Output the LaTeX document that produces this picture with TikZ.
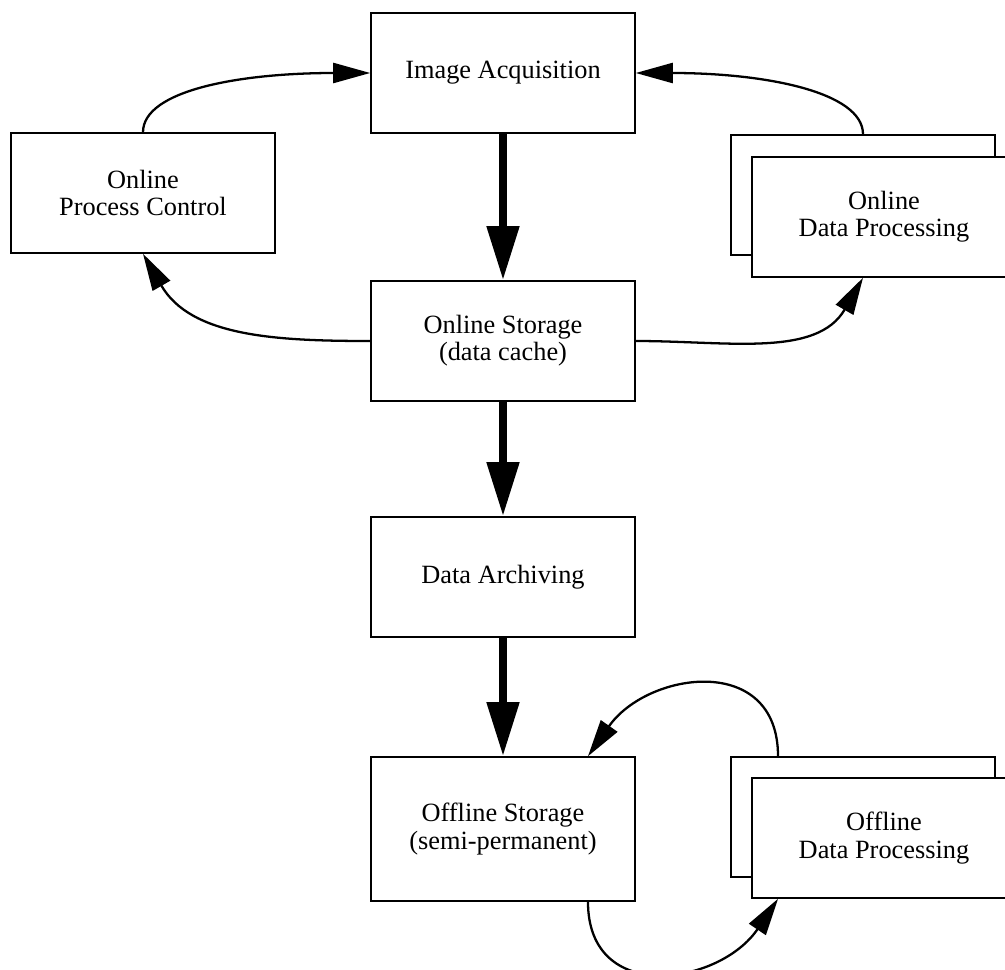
\documentclass[tikz,border=0pt]{standalone}
\usepackage{fontspec}
\setmainfont{Liberation Serif}
\usetikzlibrary{arrows.meta}

\begin{document}
\begin{tikzpicture}[x=0.02cm,y=-0.02cm,
		box/.style={draw,line width=0.9pt,fill=white,minimum width=5.28cm,minimum height=2.4cm,
			inner sep=0pt,align=center,font=\fontsize{15}{15.5}\selectfont},
		flowarrow/.style={line width=1.3pt,-{Triangle[length=0.74cm,width=0.4cm]}},
		bigarrow/.style={line width=4.5pt,-{Triangle[length=1.08cm,width=0.62cm]}}]
		\useasboundingbox (0,0) rectangle (1005,970);
		
		% Draw the main column
		\node[box] (acq) at (503,73) {Image Acquisition};
		\node[box] (store) at (503,341) {Online Storage\\(data cache)};
		\node[box] (arch) at (503,577) {Data Archiving};
		\node[box,minimum height=2.88cm] (offstore) at (503,829) {Offline Storage\\(semi-permanent)};
		
		% Draw the side boxes
		\node[box] (opc) at (143,193) {Online\\Process Control};
		\node[box] (odpback) at (863,195) {};
		\node[box] (odp) at (884,217) {Online\\Data Processing};
		\node[box] (offback) at (863,817) {};
		\node[box] (offdp) at (884,838) {Offline\\Data Processing};
		
		% Add the main flow
		\draw[bigarrow] (acq) -- (store);
		\draw[bigarrow] (store) -- (arch);
		\draw[bigarrow] (arch) -- (offstore);
		
		% Add the online loops
		\draw[flowarrow] (opc.north) .. controls +(0,-42) and +(-130,0) .. (acq.west);
		\draw[flowarrow] (odpback.north) .. controls +(0,-42) and +(130,0) .. (acq.east);
		\draw[flowarrow] (store.west) to[out=180,in=-60] (opc.south);
		\draw[flowarrow] (store.east) to[out=0,in=-120] (odp.south -| odpback.south);
		
		% Add the offline loop
		\draw[flowarrow] ([xshift=-1.7cm]offback.north) to[out=90,in=55,looseness=1.4] ([xshift=1.7cm]offstore.north);
		\draw[flowarrow] ([xshift=1.7cm]offstore.south) to[out=-90,in=-124,looseness=1.4] ([xshift=-2.12cm]offdp.south);
	\end{tikzpicture}
\end{document}
